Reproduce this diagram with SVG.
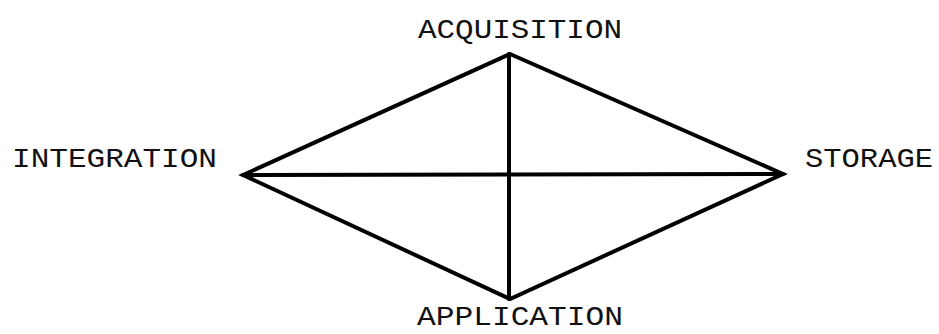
<svg xmlns="http://www.w3.org/2000/svg" width="939" height="334" viewBox="0 0 939 334">
<style>
.lbl{font-family:"Liberation Mono","Courier New",monospace;font-size:28px;fill:#111;}
.edge{stroke:#000;stroke-width:4;fill:none;stroke-linejoin:miter;stroke-linecap:round;}
</style>
<rect width="939" height="334" fill="#fff"/>
<g id="connectors">
<polygon class="edge" points="510,54 783,174 510,299 243,175"/>
<line class="edge" x1="509" y1="54" x2="509" y2="299"/>
<line class="edge" x1="243" y1="175" x2="783" y2="174"/>
</g>
<g id="acquisition"><text class="lbl" x="418" y="38" textLength="204" lengthAdjust="spacingAndGlyphs">ACQUISITION</text></g>
<g id="integration"><text class="lbl" x="12" y="167" textLength="205" lengthAdjust="spacingAndGlyphs">INTEGRATION</text></g>
<g id="storage"><text class="lbl" x="805" y="167" textLength="128" lengthAdjust="spacingAndGlyphs">STORAGE</text></g>
<g id="application"><text class="lbl" x="417" y="325" textLength="206" lengthAdjust="spacingAndGlyphs">APPLICATION</text></g>
</svg>
